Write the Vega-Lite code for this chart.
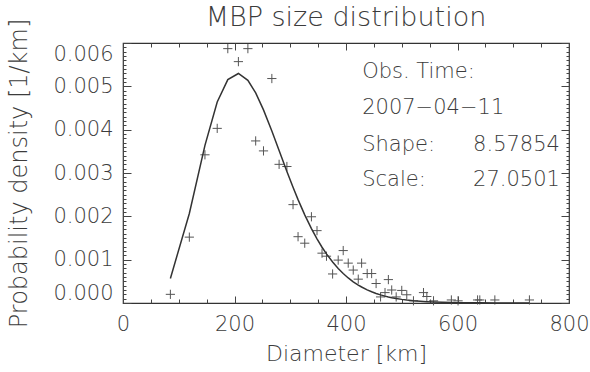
{
  "$schema": "https://vega.github.io/schema/vega-lite/v6.json",
  "width": 446,
  "height": 260,
  "autosize": {"type": "none"},
  "padding": {"left": 123, "top": 43, "right": 21, "bottom": 69},
  "background": "white",
  "title": {
    "text": "MBP size distribution",
    "font": "DejaVu Sans",
    "fontSize": 27,
    "fontWeight": 200,
    "color": "#3c3c3c",
    "anchor": "middle",
    "frame": "group",
    "baseline": "alphabetic",
    "offset": -35
  },
  "config": {
    "view": {"stroke": "#333", "strokeWidth": 1.2},
    "axis": {
      "domain": false,
      "grid": false,
      "labelFont": "DejaVu Sans",
      "labelFontSize": 21,
      "labelFontWeight": 200,
      "labelColor": "#3c3c3c",
      "titleFont": "DejaVu Sans",
      "titleFontSize": 22,
      "titleFontWeight": 200,
      "titleColor": "#3c3c3c",
      "tickColor": "#444",
      "tickWidth": 1
    }
  },
  "datasets": {
    "pts": [
      {"d": 85, "p": 0.0002},
      {"d": 119, "p": 0.00152},
      {"d": 147, "p": 0.00342},
      {"d": 169, "p": 0.00403},
      {"d": 188, "p": 0.00587},
      {"d": 207, "p": 0.00557},
      {"d": 224, "p": 0.00587},
      {"d": 238, "p": 0.00374},
      {"d": 252, "p": 0.00351},
      {"d": 267, "p": 0.00518},
      {"d": 280, "p": 0.0032},
      {"d": 294, "p": 0.00315},
      {"d": 305, "p": 0.00227},
      {"d": 314, "p": 0.00153},
      {"d": 326, "p": 0.00138},
      {"d": 338, "p": 0.00199},
      {"d": 348, "p": 0.00167},
      {"d": 357, "p": 0.00115},
      {"d": 365, "p": 0.00108},
      {"d": 376, "p": 0.00067},
      {"d": 386, "p": 0.00099},
      {"d": 395, "p": 0.00121},
      {"d": 404, "p": 0.00092},
      {"d": 413, "p": 0.00076},
      {"d": 422, "p": 0.00055},
      {"d": 428, "p": 0.00092},
      {"d": 438, "p": 0.00068},
      {"d": 446, "p": 0.00068},
      {"d": 454, "p": 0.00045},
      {"d": 462, "p": 0.00014},
      {"d": 470, "p": 0.00024},
      {"d": 476, "p": 0.00054},
      {"d": 482, "p": 0.0003},
      {"d": 490, "p": 0.00014},
      {"d": 500, "p": 0.00029},
      {"d": 509, "p": 0.00019},
      {"d": 521, "p": 0.00005},
      {"d": 539, "p": 0.00024},
      {"d": 545, "p": 0.00015},
      {"d": 557, "p": 0.00005},
      {"d": 589, "p": 0.00007},
      {"d": 601, "p": 0.00005},
      {"d": 636, "p": 0.00007},
      {"d": 640, "p": 0.00007},
      {"d": 667, "p": 0.00007},
      {"d": 729, "p": 0.00007}
    ],
    "curve": [
      {"d": 85, "f": 0.000567},
      {"d": 119, "f": 0.002065},
      {"d": 147, "f": 0.003638},
      {"d": 169, "f": 0.00464},
      {"d": 188, "f": 0.005156},
      {"d": 207, "f": 0.005296},
      {"d": 224, "f": 0.00514},
      {"d": 238, "f": 0.00485},
      {"d": 252, "f": 0.004457},
      {"d": 267, "f": 0.003968},
      {"d": 280, "f": 0.003519},
      {"d": 294, "f": 0.003035},
      {"d": 305, "f": 0.002669},
      {"d": 314, "f": 0.002386},
      {"d": 326, "f": 0.002034},
      {"d": 338, "f": 0.001717},
      {"d": 348, "f": 0.00148},
      {"d": 357, "f": 0.001287},
      {"d": 365, "f": 0.001133},
      {"d": 376, "f": 0.000945},
      {"d": 386, "f": 0.000796},
      {"d": 395, "f": 0.00068},
      {"d": 404, "f": 0.000578},
      {"d": 413, "f": 0.00049},
      {"d": 422, "f": 0.000414},
      {"d": 428, "f": 0.000369},
      {"d": 438, "f": 0.000304},
      {"d": 446, "f": 0.000259},
      {"d": 454, "f": 0.00022},
      {"d": 462, "f": 0.000187},
      {"d": 470, "f": 0.000159},
      {"d": 476, "f": 0.00014},
      {"d": 482, "f": 0.000123},
      {"d": 490, "f": 0.000104},
      {"d": 500, "f": 0.0000837},
      {"d": 509, "f": 0.0000687},
      {"d": 521, "f": 0.0000526},
      {"d": 539, "f": 0.000035},
      {"d": 545, "f": 0.0000305},
      {"d": 557, "f": 0.0000231},
      {"d": 589, "f": 0.0000108},
      {"d": 601, "f": 0.0000081},
      {"d": 636, "f": 0.0000034},
      {"d": 640, "f": 0.0000031},
      {"d": 667, "f": 0.00000155},
      {"d": 729, "f": 0.0000003}
    ],
    "notes": [
      {"x": 429, "y": 0.00533, "t": "Obs. Time:"},
      {"x": 429, "y": 0.0045, "t": "2007−04−11"},
      {"x": 429, "y": 0.003646, "t": "Shape:"},
      {"x": 429, "y": 0.002838, "t": "Scale:"},
      {"x": 628, "y": 0.003646, "t": "8.57854"},
      {"x": 628, "y": 0.002838, "t": "27.0501"}
    ]
  },
  "layer": [
    {
      "data": {"name": "pts"},
      "mark": {"type": "point", "shape": "M-1,0H1M0,-1V1", "size": 85, "stroke": "#555", "strokeWidth": 1, "filled": false, "opacity": 1},
      "encoding": {
        "x": {
          "field": "d", "type": "quantitative",
          "scale": {"domain": [0, 800], "nice": false, "zero": false},
          "axis": {
            "orient": "bottom",
            "title": "Diameter [km]",
            "values": [0, 50, 100, 150, 200, 250, 300, 350, 400, 450, 500, 550, 600, 650, 700, 750, 800],
            "labelExpr": "datum.value % 200 === 0 ? datum.label : ''",
            "labelFlush": false,
            "labelOverlap": false,
            "tickSize": {"condition": {"test": "datum.value % 200 === 0", "value": -7}, "value": -4},
            "labelPadding": 17,
            "titlePadding": 6
          }
        },
        "y": {
          "field": "p", "type": "quantitative",
          "scale": {"domain": [0, 0.006], "nice": false, "zero": false},
          "axis": {
            "orient": "left",
            "title": "Probability density [1/km]",
            "titleFontSize": 24,
            "values": [0, 0.0001, 0.0002, 0.0003, 0.0004, 0.0005, 0.0006, 0.0007, 0.0008, 0.0009, 0.001, 0.0011, 0.0012, 0.0013, 0.0014, 0.0015, 0.0016, 0.0017, 0.0018, 0.0019, 0.002, 0.0021, 0.0022, 0.0023, 0.0024, 0.0025, 0.0026, 0.0027, 0.0028, 0.0029, 0.003, 0.0031, 0.0032, 0.0033, 0.0034, 0.0035, 0.0036, 0.0037, 0.0038, 0.0039, 0.004, 0.0041, 0.0042, 0.0043, 0.0044, 0.0045, 0.0046, 0.0047, 0.0048, 0.0049, 0.005, 0.0051, 0.0052, 0.0053, 0.0054, 0.0055, 0.0056, 0.0057, 0.0058, 0.0059, 0.006],
            "labelExpr": "abs(datum.value * 1000 - round(datum.value * 1000)) < 0.000001 ? format(datum.value, '.3f') : ''",
            "labelFlush": true,
            "labelOverlap": false,
            "tickSize": {"condition": {"test": "abs(datum.value * 1000 - round(datum.value * 1000)) < 0.000001", "value": -8}, "value": -3},
            "labelPadding": 18,
            "titlePadding": 21
          }
        }
      }
    },
    {
      "data": {"name": "curve"},
      "mark": {"type": "line", "color": "#333", "strokeWidth": 1.5},
      "encoding": {
        "x": {
          "field": "d", "type": "quantitative",
          "axis": {
            "orient": "top",
            "title": null,
            "labels": false,
            "values": [0, 50, 100, 150, 200, 250, 300, 350, 400, 450, 500, 550, 600, 650, 700, 750, 800],
            "tickSize": {"condition": {"test": "datum.value % 200 === 0", "value": -7}, "value": -4}
          }
        },
        "y": {
          "field": "f", "type": "quantitative",
          "axis": {
            "orient": "right",
            "title": null,
            "labels": false,
            "values": [0, 0.0001, 0.0002, 0.0003, 0.0004, 0.0005, 0.0006, 0.0007, 0.0008, 0.0009, 0.001, 0.0011, 0.0012, 0.0013, 0.0014, 0.0015, 0.0016, 0.0017, 0.0018, 0.0019, 0.002, 0.0021, 0.0022, 0.0023, 0.0024, 0.0025, 0.0026, 0.0027, 0.0028, 0.0029, 0.003, 0.0031, 0.0032, 0.0033, 0.0034, 0.0035, 0.0036, 0.0037, 0.0038, 0.0039, 0.004, 0.0041, 0.0042, 0.0043, 0.0044, 0.0045, 0.0046, 0.0047, 0.0048, 0.0049, 0.005, 0.0051, 0.0052, 0.0053, 0.0054, 0.0055, 0.0056, 0.0057, 0.0058, 0.0059, 0.006],
            "tickSize": {"condition": {"test": "abs(datum.value * 1000 - round(datum.value * 1000)) < 0.000001", "value": -8}, "value": -3}
          }
        }
      }
    },
    {
      "data": {"name": "notes"},
      "mark": {"type": "text", "align": "left", "baseline": "middle", "font": "DejaVu Sans", "fontSize": 21, "fontWeight": 200, "color": "#3c3c3c"},
      "encoding": {
        "x": {"field": "x", "type": "quantitative", "axis": null},
        "y": {"field": "y", "type": "quantitative", "axis": null},
        "text": {"field": "t", "type": "nominal"}
      }
    }
  ]
}
